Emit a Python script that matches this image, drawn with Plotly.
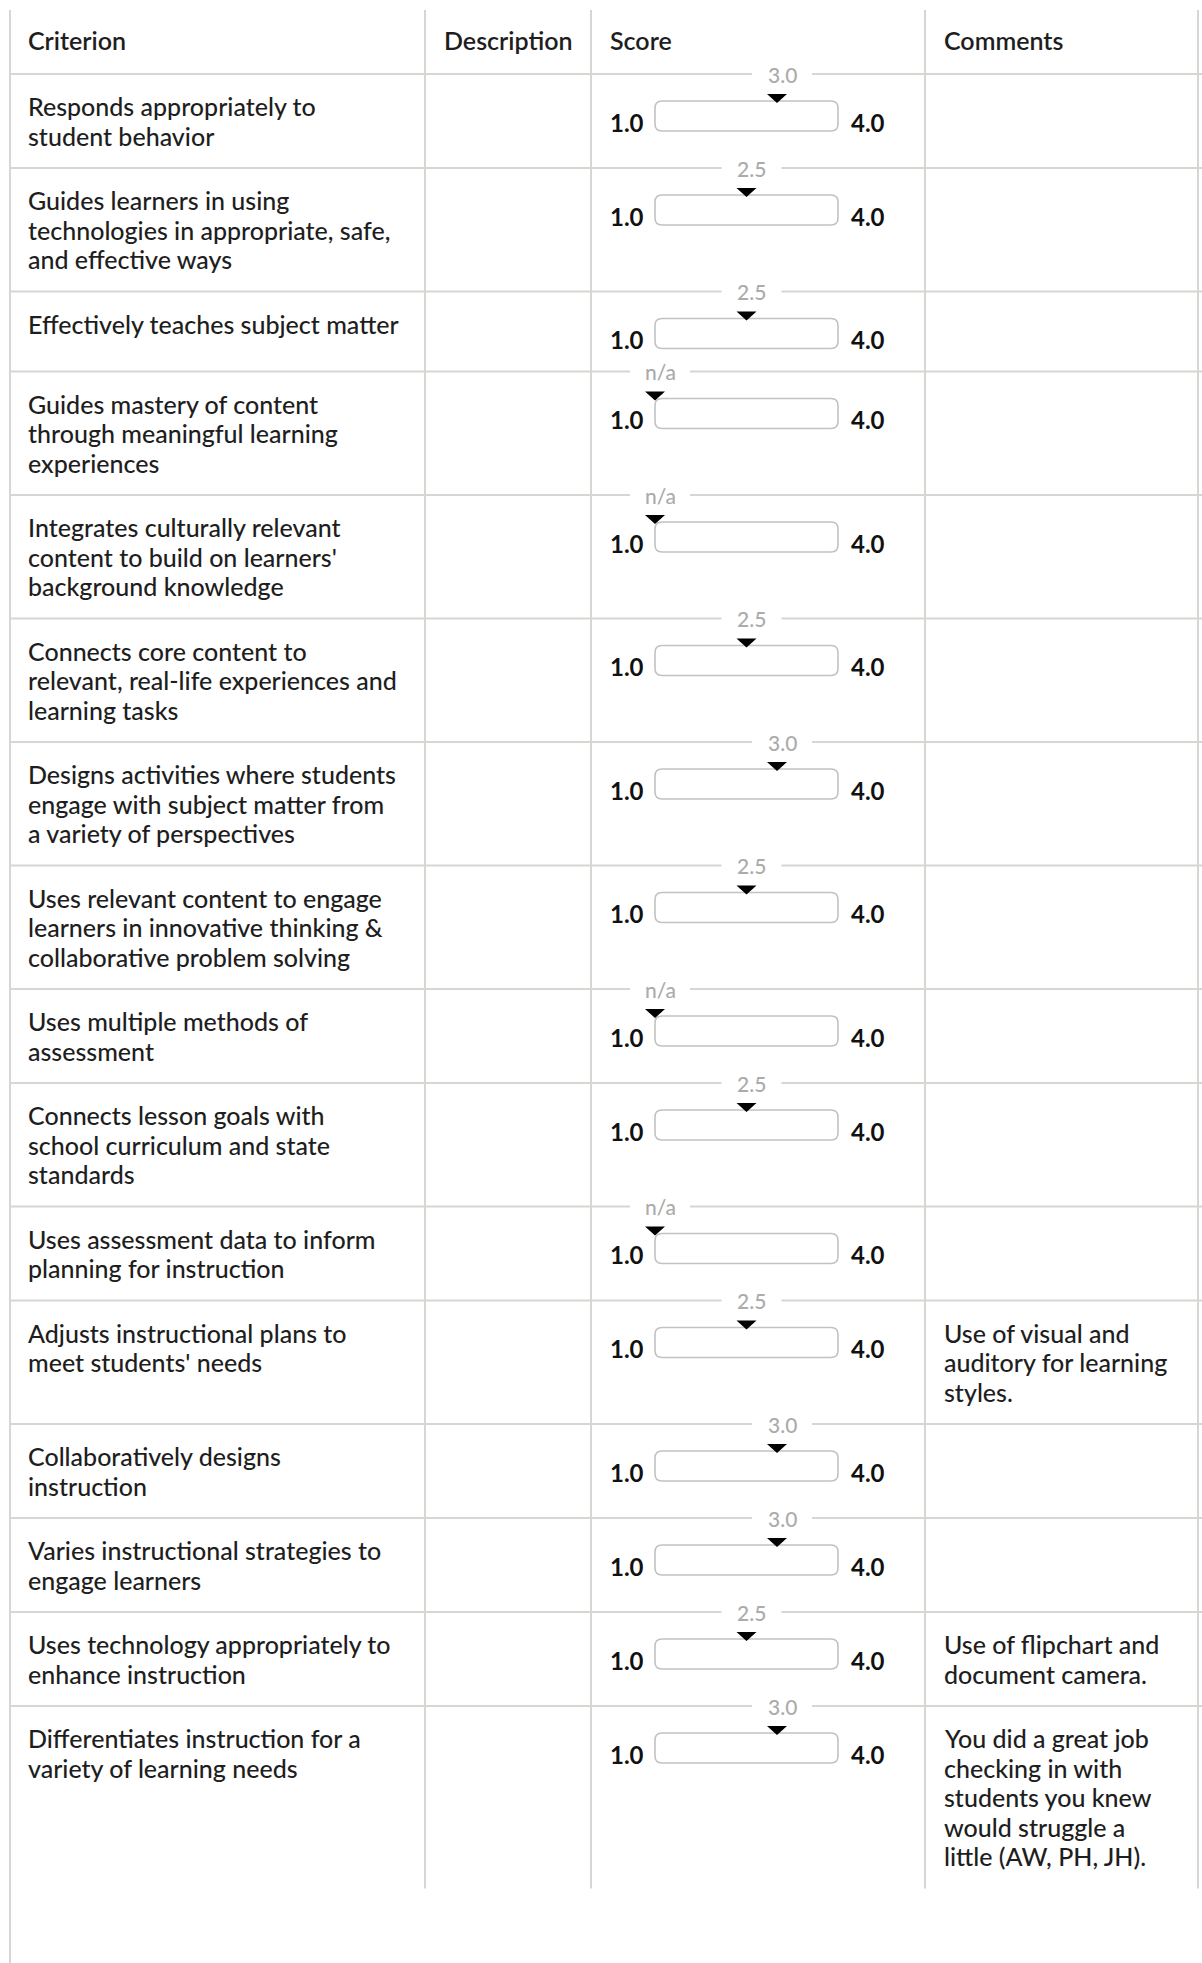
import plotly.graph_objects as go

# ---------------- data ----------------
headers = ["Criterion", "Description", "Score", "Comments"]

criteria = [
    "Responds appropriately to\nstudent behavior",
    "Guides learners in using\ntechnologies in appropriate, safe,\nand effective ways",
    "Effectively teaches subject matter",
    "Guides mastery of content\nthrough meaningful learning\nexperiences",
    "Integrates culturally relevant\ncontent to build on learners'\nbackground knowledge",
    "Connects core content to\nrelevant, real-life experiences and\nlearning tasks",
    "Designs activities where students\nengage with subject matter from\na variety of perspectives",
    "Uses relevant content to engage\nlearners in innovative thinking &amp;\ncollaborative problem solving",
    "Uses multiple methods of\nassessment",
    "Connects lesson goals with\nschool curriculum and state\nstandards",
    "Uses assessment data to inform\nplanning for instruction",
    "Adjusts instructional plans to\nmeet students' needs",
    "Collaboratively designs\ninstruction",
    "Varies instructional strategies to\nengage learners",
    "Uses technology appropriately to\nenhance instruction",
    "Differentiates instruction for a\nvariety of learning needs",
]

scores = [3.0, 2.5, 2.5, None, None, 2.5, 3.0, 2.5, None, 2.5, None, 2.5, 3.0, 3.0, 2.5, 3.0]

comments = [
    "", "", "", "", "", "", "", "", "", "", "",
    "Use of visual and\nauditory for learning\nstyles.",
    "", "",
    "Use of flipchart and\ndocument camera.",
    "You did a great job\nchecking in with\nstudents you knew\nwould struggle a\nlittle (AW, PH, JH).",
]

score_min = 1.0
score_max = 4.0

# ---------------- layout constants (pixels) ----------------
W, H = 1202, 1963
FONT = "Lato"
TXT = "#1e1e1e"
GRID = "#d6d6d2"
LBL = "#ababab"
BODY_SIZE = 25

table_top = 10
header_bottom = 74
col_x = [10, 425, 591, 925, 1198]
text_x = [26, 442, 608, 942]
line_h = 29.5
min_row_h = 80

box_x0, box_x1 = 655, 838  # slider track -> score_min..score_max
axis_pad = 45              # extra room around the slider axis so marks are not clipped

# row geometry derived from number of text lines
row_tops = []
row_h = []
y = header_bottom
for c, cm in zip(criteria, comments):
    n = max(len(c.split("\n")), len(cm.split("\n")) if cm else 1)
    h = max(min_row_h, 94 + (n - 2) * line_h)
    row_tops.append(y)
    row_h.append(h)
    y += h
table_bottom = y

fig = go.Figure()

# invisible hover points for scores on the slider axis
fig.add_trace(go.Scatter(
    x=[s if s is not None else score_min for s in scores],
    y=[t + 25 for t in row_tops],
    xaxis="x2", yaxis="y",
    mode="markers",
    marker=dict(size=1, opacity=0),
    hovertext=[("n/a" if s is None else f"{s:.1f}") for s in scores],
    hoverinfo="text",
    showlegend=False,
    cliponaxis=False,
))

shapes = []
annotations = []

# grid lines
shapes.append(dict(type="line", xref="x", yref="y", x0=col_x[0], x1=col_x[0],
                   y0=table_top, y1=H, line=dict(color=GRID, width=2)))
for cx in col_x[1:]:
    shapes.append(dict(type="line", xref="x", yref="y", x0=cx, x1=cx,
                       y0=table_top, y1=table_bottom, line=dict(color=GRID, width=2)))
for yy in [header_bottom] + row_tops[1:]:
    shapes.append(dict(type="line", xref="x", yref="y", x0=col_x[0], x1=W,
                       y0=yy, y1=yy, line=dict(color=GRID, width=2)))

# headers
for hx, htxt in zip(text_x, headers):
    annotations.append(dict(x=hx, y=40, xref="x", yref="y", text=htxt,
                            showarrow=False, xanchor="left", yanchor="middle",
                            font=dict(family=FONT, size=BODY_SIZE, color=TXT, weight=600)))

def rounded_rect(x0, y0, x1, y1, r):
    return (f"M{x0+r},{y0} L{x1-r},{y0} Q{x1},{y0} {x1},{y0+r} "
            f"L{x1},{y1-r} Q{x1},{y1} {x1-r},{y1} L{x0+r},{y1} "
            f"Q{x0},{y1} {x0},{y1-r} L{x0},{y0+r} Q{x0},{y0} {x0+r},{y0} Z")

marker_shapes = []
for i, (c, s, cm) in enumerate(zip(criteria, scores, comments)):
    top = row_tops[i]
    # criterion text lines
    for j, ln in enumerate(c.split("\n")):
        annotations.append(dict(x=text_x[0], y=top + 32 + j * line_h, xref="x", yref="y",
                                text=ln, showarrow=False, xanchor="left", yanchor="middle",
                                font=dict(family=FONT, size=BODY_SIZE, color=TXT, weight=500)))
    # comments
    if cm:
        for j, ln in enumerate(cm.split("\n")):
            annotations.append(dict(x=text_x[3], y=top + 32 + j * line_h, xref="x", yref="y",
                                    text=ln, showarrow=False, xanchor="left", yanchor="middle",
                                    font=dict(family=FONT, size=BODY_SIZE, color=TXT, weight=500)))
    # slider min/max labels
    annotations.append(dict(x=text_x[2], y=top + 48, xref="x", yref="y",
                            text=f"{score_min:.1f}", showarrow=False,
                            xanchor="left", yanchor="middle",
                            font=dict(family=FONT, size=24, color="#111111", weight=700)))
    annotations.append(dict(x=849, y=top + 48, xref="x", yref="y",
                            text=f"{score_max:.1f}", showarrow=False,
                            xanchor="left", yanchor="middle",
                            font=dict(family=FONT, size=24, color="#111111", weight=700)))
    # slider track
    shapes.append(dict(type="path", xref="x", yref="y",
                       path=rounded_rect(box_x0, top + 27, box_x1, top + 57, 7),
                       line=dict(color="#c2c2c2", width=1.6), fillcolor="white"))
    # score marker + label, placed through the slider axis
    pos = s if s is not None else score_min
    label = "n/a" if s is None else f"{s:.1f}"
    marker_shapes.append(dict(type="rect", xref="x2", yref="y", xsizemode="pixel", ysizemode="pixel",
                              xanchor=pos, yanchor=top, x0=-25, x1=35, y0=-3, y1=3,
                              fillcolor="white", line=dict(width=0)))
    marker_shapes.append(dict(type="path", xref="x2", yref="y", xsizemode="pixel", ysizemode="pixel",
                              xanchor=pos, yanchor=top, path="M-10,-20 L10,-20 L0,-29 Z",
                              fillcolor="black", line=dict(width=0)))
    annotations.append(dict(x=pos, y=top, xref="x2", yref="y", xshift=5,
                            text=label, showarrow=False, xanchor="center", yanchor="middle",
                            font=dict(family=FONT, size=21, color=LBL, weight=500)))

shapes += marker_shapes
unit = (score_max - score_min) / (box_x1 - box_x0)

fig.update_layout(
    width=W, height=H,
    margin=dict(l=0, r=0, t=0, b=0),
    paper_bgcolor="white", plot_bgcolor="rgba(0,0,0,0)",
    showlegend=False,
    xaxis=dict(range=[0, W], visible=False, fixedrange=True),
    yaxis=dict(range=[H, 0], visible=False, fixedrange=True),
    xaxis2=dict(domain=[(box_x0 - axis_pad) / W, (box_x1 + axis_pad) / W],
                range=[score_min - axis_pad * unit, score_max + axis_pad * unit],
                anchor="y", visible=False, fixedrange=True),
    shapes=shapes,
    annotations=annotations,
    font=dict(family=FONT),
)

fig.write_html(
    "out.html",
    config={"displayModeBar": False},
    post_script="document.body.style.margin='0';document.body.style.overflow='hidden';"
                "document.documentElement.style.overflow='hidden';",
)
